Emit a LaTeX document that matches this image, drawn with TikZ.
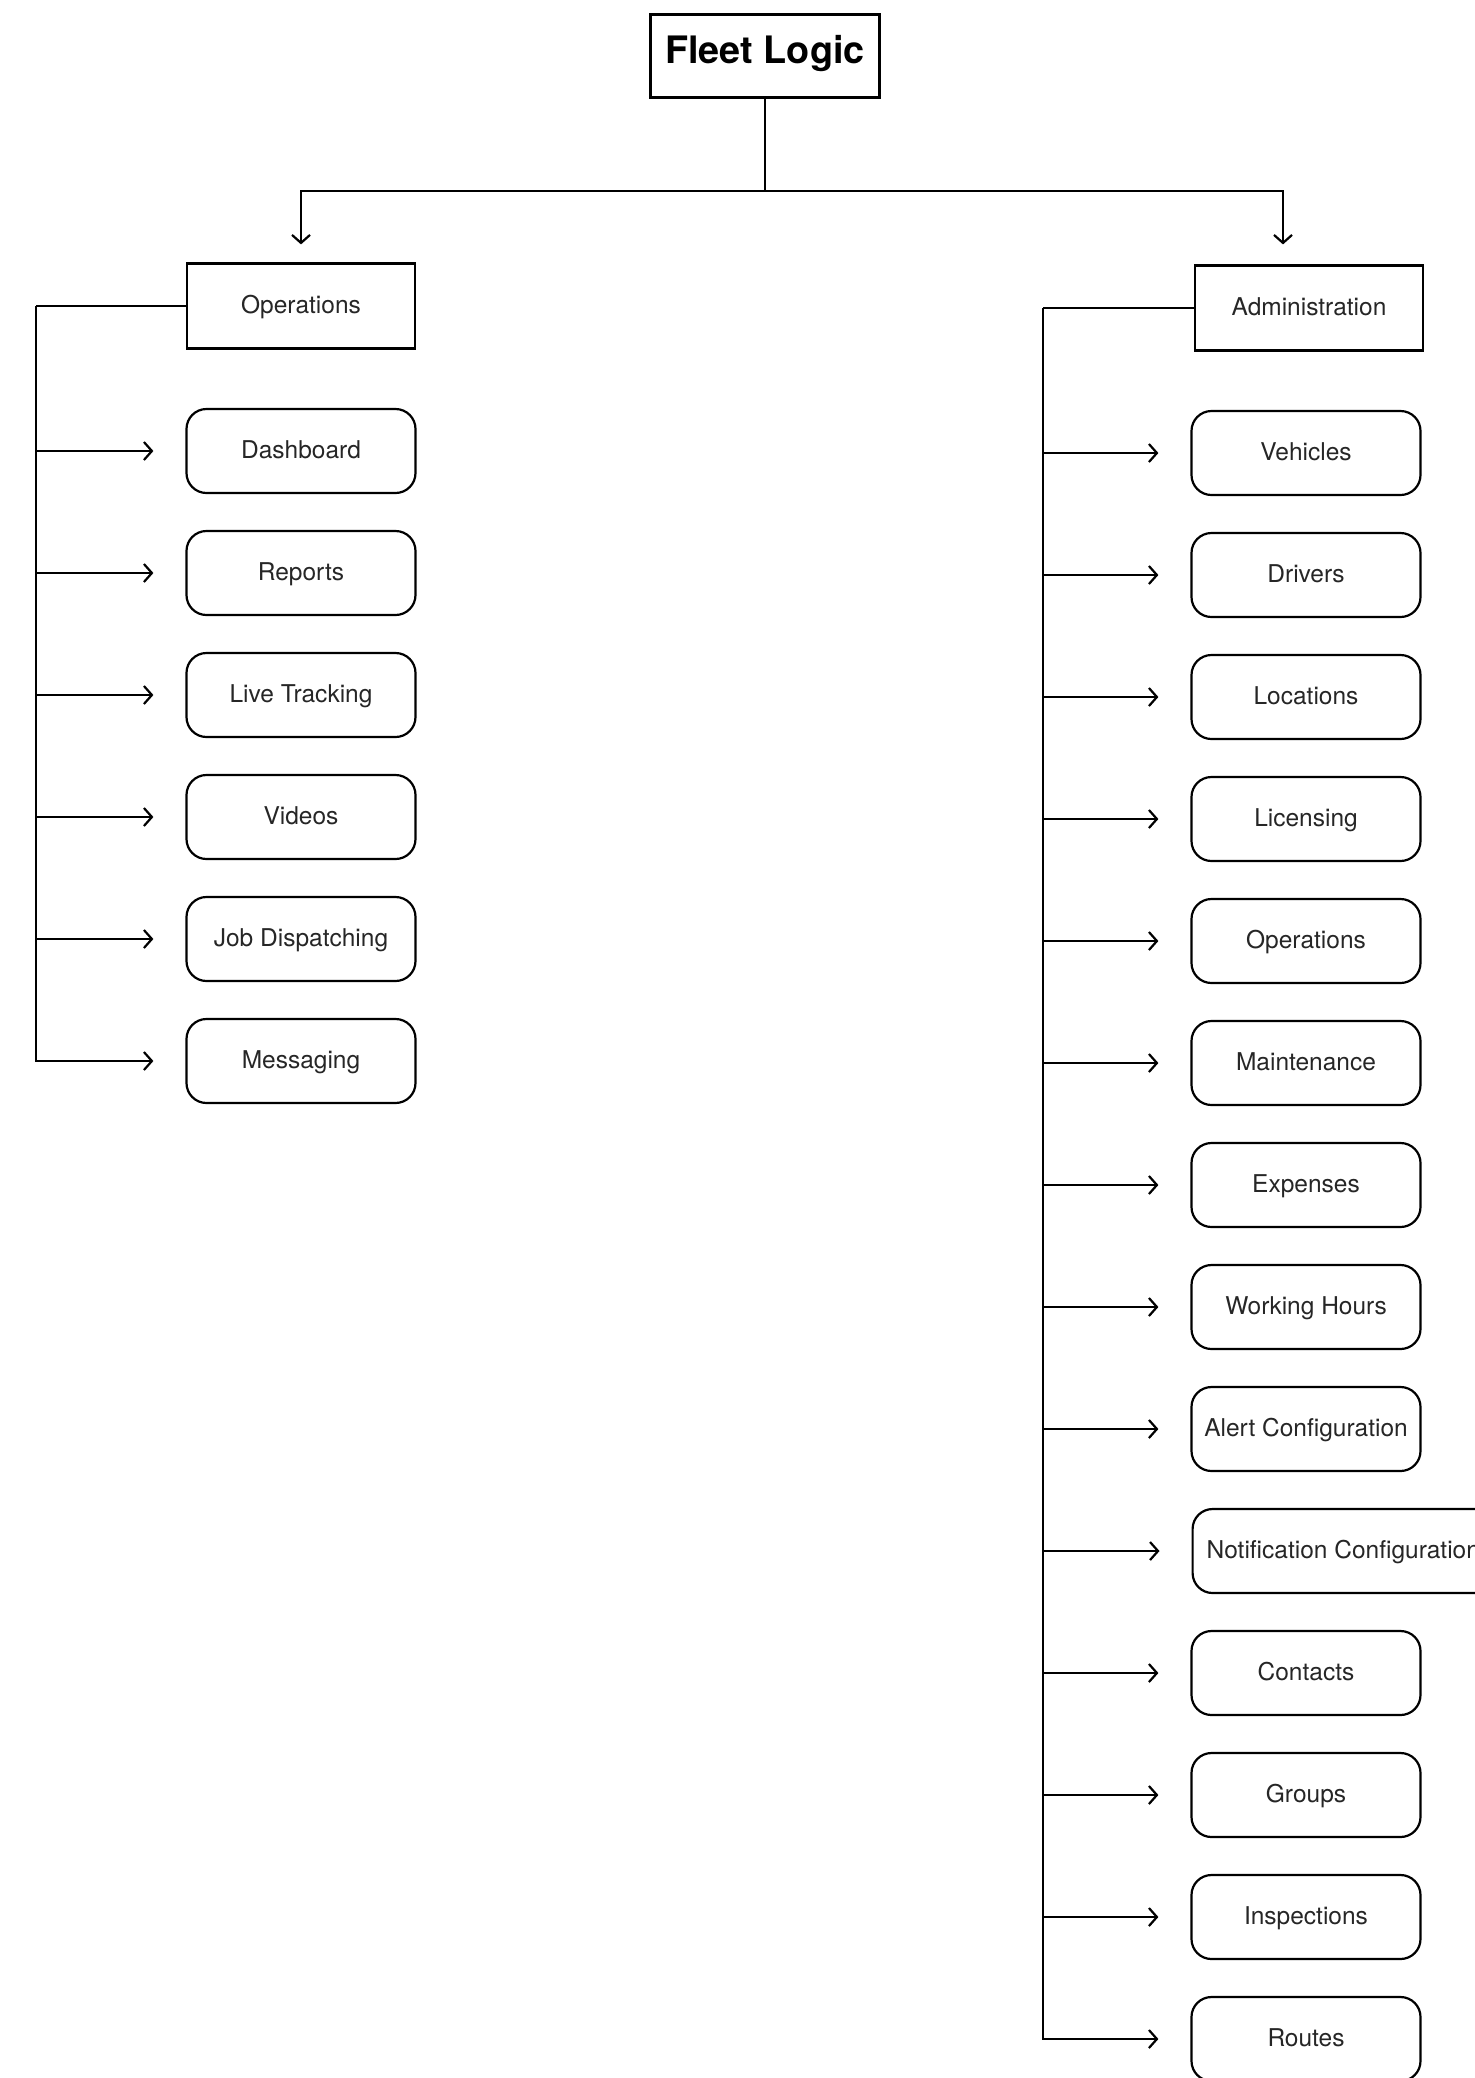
\documentclass[tikz,border=0pt]{standalone}
\usepackage{fontspec}
\setmainfont{TeX Gyre Heros}
\usetikzlibrary{positioning,arrows.meta}

\begin{document}
\begin{tikzpicture}[node distance={61pt}, line width=1.1pt, >={Straight Barb[length=4pt,width=9pt]},
    top/.style = {draw, rectangle, minimum width=114.5pt, minimum height=41.5pt, text height=1.37ex, text depth=0pt, font=\fontsize{18.9}{22}\selectfont\bfseries},
    group/.style = {draw, rectangle, minimum width=114pt, minimum height=42.5pt, text height=1.37ex, text depth=0pt, text=black!85, font=\fontsize{12.25}{14}\selectfont},
    sub/.style = {draw, rounded corners=10pt, minimum width=114.5pt, minimum height=42pt, text height=1.37ex, text depth=0pt, text=black!85, font=\fontsize{12.25}{14}\selectfont},
    link/.style = {->, shorten >=16pt}]
  \useasboundingbox (0,0) rectangle (737.5pt,-1039pt);
  \node[top] (fleet) at (382.5pt,-28pt) {Fleet Logic};
  \node[group] (ops) at (150.5pt,-153pt) {Operations};
  \node[group] (admin) at (654.5pt,-154pt) {Administration};
  % operations side
  \node[sub] (dash) [below of=ops, node distance=72.5pt] {Dashboard};
  \node[sub] (reports) [below of=dash] {Reports};
  \node[sub] (live) [below of=reports] {Live Tracking};
  \node[sub] (videos) [below of=live] {Videos};
  \node[sub] (jobs) [below of=videos] {Job Dispatching};
  \node[sub] (msg) [below of=jobs] {Messaging};
  % administration side
  \node[sub] (vehicles) [below of=admin, node distance=72.5pt, xshift=-1.5pt] {Vehicles};
  \node[sub] (drivers) [below of=vehicles] {Drivers};
  \node[sub] (locations) [below of=drivers] {Locations};
  \node[sub] (licensing) [below of=locations] {Licensing};
  \node[sub] (adminops) [below of=licensing] {Operations};
  \node[sub] (maint) [below of=adminops] {Maintenance};
  \node[sub] (expenses) [below of=maint] {Expenses};
  \node[sub] (hours) [below of=expenses] {Working Hours};
  \node[sub] (alert) [below of=hours] {Alert Configuration};
  \node[sub, inner xsep=7pt] (notif) [below of=alert, anchor=west, xshift=-57.25pt] {Notification Configuration};
  \node[sub] (contacts) [below of=alert, node distance=122pt] {Contacts};
  \node[sub] (groups) [below of=contacts] {Groups};
  \node[sub] (inspect) [below of=groups] {Inspections};
  \node[sub] (routes) [below of=inspect] {Routes};
  % connectors
  \draw (fleet.south) -- ++(0,-46pt) coordinate (bus);
  \coordinate[above=9pt of ops.north] (ops in);
  \coordinate[above=10pt of admin.north, xshift=-13pt] (admin in);
  \draw[->] (bus) -| (ops in);
  \draw[->] (bus) -| (admin in);
  \coordinate (lspine) at ([xshift=-75pt]ops.west);
  \coordinate (rspine) at ([xshift=-75.5pt]admin.west);
  \draw (ops.west) -- (lspine);
  \draw (admin.west) -- (rspine);
  \foreach \c in {dash,reports,live,videos,jobs,msg}
    \draw[link] (lspine) |- (\c.west);
  \foreach \c in {vehicles,drivers,locations,licensing,adminops,maint,expenses,hours,alert,notif,contacts,groups,inspect,routes}
    \draw[link] (rspine) |- (\c.west);
\end{tikzpicture}
\end{document}
